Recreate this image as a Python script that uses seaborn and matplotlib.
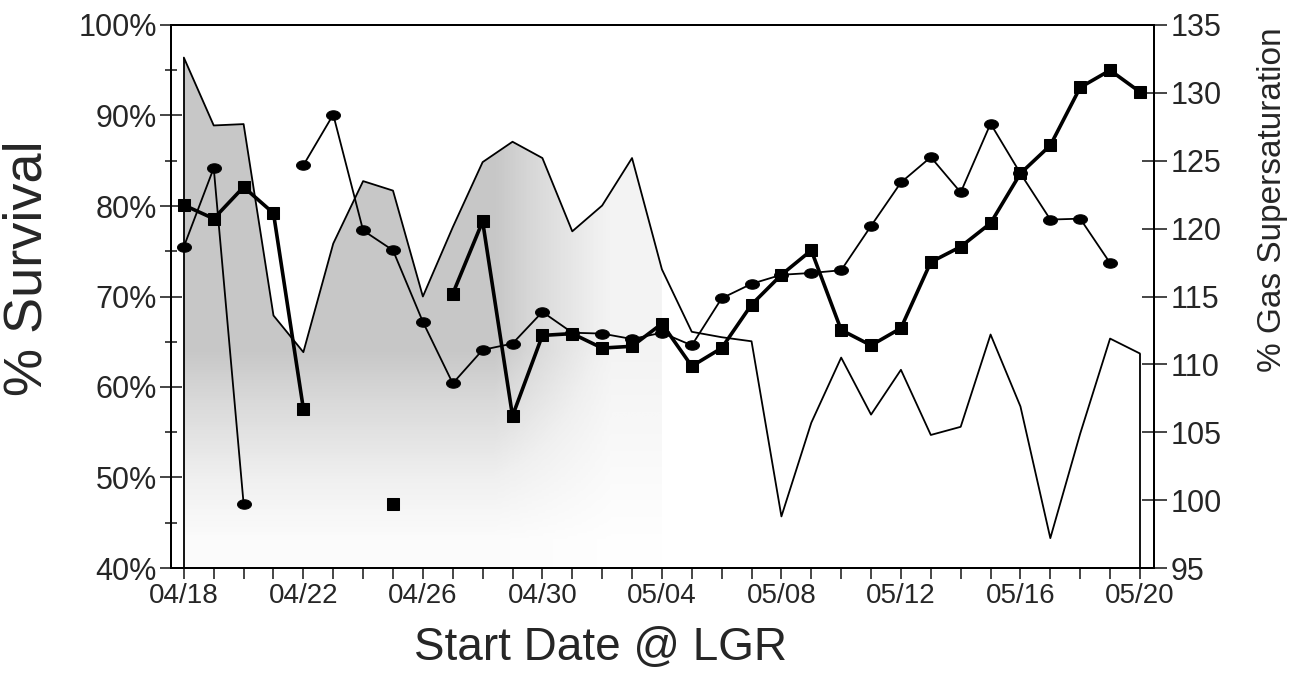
import numpy as np
import pandas as pd
import matplotlib
matplotlib.use("Agg")
import matplotlib.pyplot as plt
from matplotlib.path import Path
from matplotlib.ticker import MultipleLocator, PercentFormatter
import seaborn as sns

# day 0 = 04/18 ... day 32 = 05/20
days = list(range(33))
tick_days = [0, 4, 8, 12, 16, 20, 24, 28, 32]
tick_labels = ["04/18", "04/22", "04/26", "04/30", "05/04",
               "05/08", "05/12", "05/16", "05/20"]

# % gas supersaturation (right axis)
gas = [132.6, 127.6, 127.7, 113.6, 110.9, 118.9, 123.5, 122.8, 115.0,
       120.1, 124.9, 126.4, 125.2, 119.8, 121.7, 125.2, 117.0, 112.4,
       112.0, 111.7, 98.8, 105.7, 110.5, 106.3, 109.6, 104.8, 105.4,
       112.2, 106.9, 97.2, 104.9, 111.9, 110.8]

# % survival, oval markers (thin line)
surv_a = [75.5, 84.2, 47.1, np.nan, 84.5, 90.1, 77.3, 75.1, 67.2,
          60.4, 64.1, 64.8, 68.3, 66.0, 65.9, 65.3, 66.0, 64.6,
          69.8, 71.4, 72.4, 72.6, 72.9, 77.8, 82.6, 85.4, 81.5,
          89.1, 83.6, 78.5, 78.6, 73.7, np.nan]

# % survival, square markers (thick line)
surv_b = [80.1, 78.6, 82.1, 79.2, 57.6, np.nan, np.nan, 47.1, np.nan,
          70.3, 78.3, 56.8, 65.7, 65.9, 64.3, 64.5, 67.0, 62.3,
          64.3, 69.1, 72.4, 75.1, 66.3, 64.6, 66.5, 73.8, 75.5,
          78.1, 83.6, 86.7, 93.1, 95.0, 92.6]

shaded_until = 16  # stippled area only visible up to 05/04


def segments(vals):
    df = pd.DataFrame({"day": days, "val": vals})
    df["seg"] = df["val"].isna().cumsum()
    return df.dropna()


sns.set_style("ticks")
plt.rcParams["font.family"] = ["Liberation Sans", "DejaVu Sans"]

fig = plt.figure(figsize=(13.07, 6.73), dpi=100)
W, H = 1307, 673
ax = fig.add_axes([171 / W, 1 - 568 / H, 983 / W, 543 / H])
ax2 = ax.twinx()
ax.set_zorder(ax2.get_zorder() + 1)
ax.patch.set_visible(False)

# gas supersaturation: stippled area (faded grey) + outline
area = ax2.fill_between(days[:shaded_until + 1], 95, gas[:shaded_until + 1],
                        facecolor="none", lw=0)
yy, xx = np.mgrid[0:1:200j, 0:1:200j]
shade = (0.03 + 0.3 * np.clip((yy - 0.05) / 0.35, 0, 1)) \
    * np.clip((1.0 - xx) / 0.35, 0.3, 1.0)
im = ax2.imshow(shade, extent=(0, shaded_until, 95, 135), origin="lower",
                cmap="Greys", vmin=0, vmax=1, aspect="auto", zorder=1,
                interpolation="bilinear")
im.set_clip_path(area.get_paths()[0], transform=ax2.transData)

gas_df = pd.DataFrame({"day": days, "gas": gas})
sns.lineplot(data=gas_df, x="day", y="gas", ax=ax2, color="black",
             lw=1.3, zorder=3)
ax2.vlines([days[0], days[-1]], 95, [gas[0], gas[-1]], color="black", lw=1.3)

# oval marker
t = np.linspace(0, 2 * np.pi, 40)
oval = Path(np.column_stack([np.cos(t), 0.68 * np.sin(t)]))

da = segments(surv_a)
sns.lineplot(data=da, x="day", y="val", units="seg", estimator=None, ax=ax,
             color="black", lw=1.3, marker=oval, markersize=10,
             markeredgecolor="black", zorder=4)
db = segments(surv_b)
sns.lineplot(data=db, x="day", y="val", units="seg", estimator=None, ax=ax,
             color="black", lw=2.6, marker="s", markersize=8,
             markeredgecolor="black", zorder=5)

ax.set_xlim(-0.43, 32.47)
ax.set_ylim(40, 100)
ax2.set_ylim(95, 135)

ax.set_xticks(tick_days)
ax.set_xticklabels(tick_labels)
ax.xaxis.set_minor_locator(MultipleLocator(1))
ax.yaxis.set_major_locator(MultipleLocator(10))
ax.yaxis.set_minor_locator(MultipleLocator(5))
ax.yaxis.set_major_formatter(PercentFormatter(decimals=0))
ax2.yaxis.set_major_locator(MultipleLocator(5))

ax.tick_params(axis="x", which="both", direction="out", length=8, width=1.2,
               labelsize=20, pad=3)
ax.tick_params(axis="y", which="major", direction="inout", length=16,
               width=1.2, labelsize=22, pad=2)
ax.tick_params(axis="y", which="minor", direction="inout", length=9, width=1.2)
ax2.tick_params(axis="y", which="major", direction="inout", length=18,
                width=1.2, labelsize=22, pad=3)

for a in (ax, ax2):
    for s in a.spines.values():
        s.set_linewidth(1.4)
        s.set_color("black")
ax.set_xlabel("")
ax.set_ylabel("")
ax2.set_ylabel("")

fig.text(601 / W, 1 - 660 / H, "Start Date @ LGR", fontsize=33,
         ha="center", va="baseline")
fig.text(28 / W, 1 - 268 / H, "% Survival", fontsize=39, rotation=90,
         ha="center", va="center")
fig.text(1272 / W, 1 - 200 / H, "% Gas Supersaturation", fontsize=24,
         rotation=90, ha="center", va="center")

fig.savefig("out.png", dpi=100)
